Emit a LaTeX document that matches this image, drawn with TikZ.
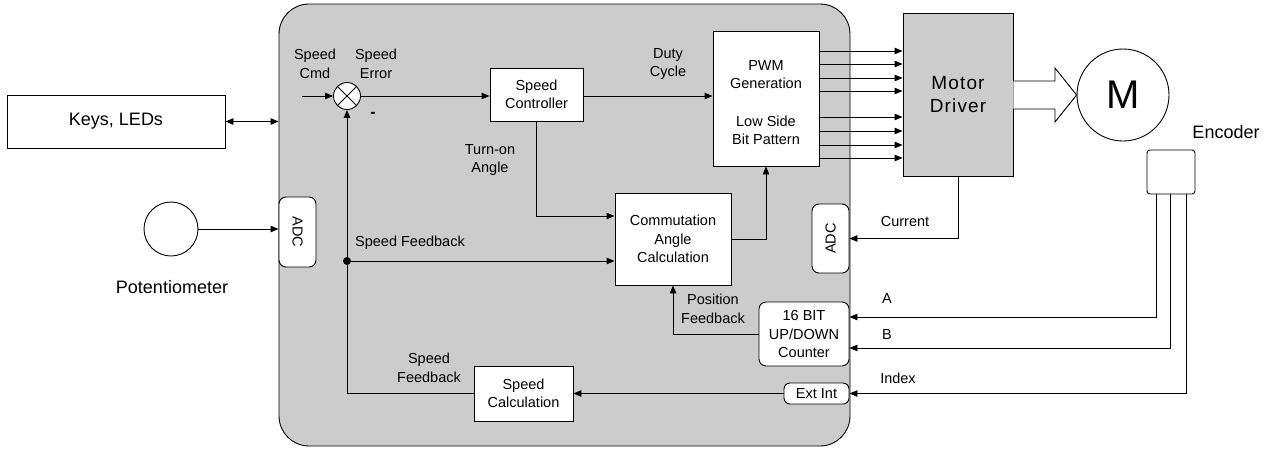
\documentclass[tikz,border=0pt]{standalone}
\usepackage{fontspec}
\setmainfont{Liberation Sans}
\newfontfamily\spacedfont[LetterSpace=6]{Liberation Sans}
\usetikzlibrary{arrows.meta,calc}
\definecolor{panel}{RGB}{204,204,204}
\begin{document}
\begin{tikzpicture}[x=1pt,y=-1pt,
  every node/.style={font=\fontsize{14.5}{18.5}\selectfont, align=center, inner sep=0pt},
  blk/.style={draw, fill=white, line width=0.9pt},
  rblk/.style={draw, fill=white, line width=0.9pt, rounded corners=7pt},
  conn/.style={line width=0.9pt},
  arr/.style={line width=0.9pt, -{Triangle[length=8pt,width=6.5pt]}},
  lbl/.style={font=\fontsize{14.5}{18.5}\selectfont},
  big/.style={font=\fontsize{18}{22}\selectfont}
]
\useasboundingbox (0,0) rectangle (1268,448);
% main panel
\node (main) [draw, fill=panel, line width=0.9pt, rounded corners=30pt, minimum width=571, minimum height=442] at (564.5,225) {};
% left side
\node (keys) [blk, big, minimum width=218, minimum height=53] at (116,121.5) {Keys, LEDs};
\node (pot) [draw, circle, line width=0.9pt, minimum size=54] at (171,229) {};
\node (potl) [big] at (172,287) {Potentiometer};
\node (adcL) [rblk, minimum width=37, minimum height=70] at (297.5,232) {};
\node [rotate=-90] at (adcL.center) {ADC};
% summing junction
\node (sum) [draw, circle, fill=white, line width=0.9pt, minimum size=27] at (347,96) {};
\draw[conn] (sum.north east) -- (sum.south west) (sum.north west) -- (sum.south east);
\coordinate (cmd) at (302,96);
% blocks
\node (sc) [blk, minimum width=93, minimum height=53] at (536.5,94.5) {Speed\\Controller};
\node (pwm) [blk, minimum width=106, minimum height=135] at (766,98.5) {};
\node at (766,74.5) {PWM\\Generation};
\node at (766,130.5) {Low Side\\Bit Pattern};
\node (md) [draw, fill=panel, line width=0.9pt, minimum width=110, minimum height=163, font=\fontsize{19}{23}\spacedfont] at (958,94.5) {Motor\\Driver};
\node (motor) [draw, circle, fill=white, line width=0.9pt, minimum size=92, font=\fontsize{40}{40}\selectfont] at (1123,95) {M};
\node (enc) [draw, fill=white, line width=0.9pt, rounded corners=3pt, minimum width=48, minimum height=44] at (1171,172) {};
\node (encl) [big] at (1226,132) {Encoder};
\node (comm) [blk, minimum width=116, minimum height=92] at (673,239) {Commutation\\Angle\\Calculation};
\node (adcR) [rblk, minimum width=37, minimum height=69] at (830.5,238.5) {};
\node [rotate=90] at (adcR.center) {ADC};
\node (cnt) [rblk, minimum width=90, minimum height=64] at (804,334) {16 BIT\\UP/DOWN\\Counter};
\node (ext) [rblk, rounded corners=6pt, minimum width=65, minimum height=21] at (816.5,393.5) {Ext Int};
\node (scalc) [blk, minimum width=99, minimum height=55] at (523.5,393.5) {Speed\\Calculation};
\coordinate (fb) at (347,261);
% connectors
\draw[line width=0.9pt, {Triangle[length=8pt,width=6.5pt]}-{Triangle[length=8pt,width=6.5pt]}] (keys.east) -- (keys.east -| main.west);
\draw[arr] (pot.east) -- (pot.east -| adcL.west);
\draw[arr] (cmd) -- (sum.west);
\draw[arr] (sum.east) -- (sum.east -| sc.west);
\draw[arr] (sc.east |- sum.center) -- (pwm.west |- sum.center);
\foreach \yy in {51,64,78,91,117,131,145,158}
  \draw[arr] (pwm.east |- 0,\yy) -- (md.west |- 0,\yy);
\draw[line width=0.9pt, fill=white] (md.east |- 0,81) -- (1055,81) -- (1055,68) -- (motor.west) -- (1055,122) -- (1055,109) -- (md.east |- 0,109);
\draw[arr] (sc.south) |- (comm.west |- 0,216);
\draw[arr] (comm.east) -| (pwm.south);
\draw[arr] (fb) -- (fb -| comm.west);
\draw[arr] (scalc.west) -| (sum.south);
\fill (fb) circle (4);
\draw[arr] (ext.west) -- (scalc.east);
\draw[arr] (cnt.west) -| (comm.south);
\draw[arr] (md.south) |- (adcR.east);
\draw[arr] ($(enc.south)+(-15,0)$) |- (cnt.east |- 0,317);
\draw[arr] ($(enc.south)+(-1,0)$) |- (cnt.east |- 0,348);
\draw[arr] ($(enc.south)+(15,0)$) |- (ext.east);
% labels
\node[lbl] (lcmd) at (315,64) {Speed\\Cmd};
\node[lbl] (lerr) at (376,64) {Speed\\Error};
\node[lbl, font=\fontsize{16}{16}\selectfont\bfseries] (lminus) at (373,115) {-};
\node[lbl] (lduty) at (668,64) {Duty\\Cycle};
\node[lbl] (lturn) at (490,160) {Turn-on\\Angle};
\node[lbl] (lsfb) at (410,243) {Speed Feedback};
\node[lbl] (lsfb2) at (429,368) {Speed\\Feedback};
\node[lbl] (lpos) at (713,309) {Position\\Feedback};
\node[lbl] (lcur) at (905,222) {Current};
\node[lbl] (la) at (887,299) {A};
\node[lbl] (lb) at (887,335) {B};
\node[lbl] (lidx) at (898,378) {Index};
\end{tikzpicture}
\end{document}
